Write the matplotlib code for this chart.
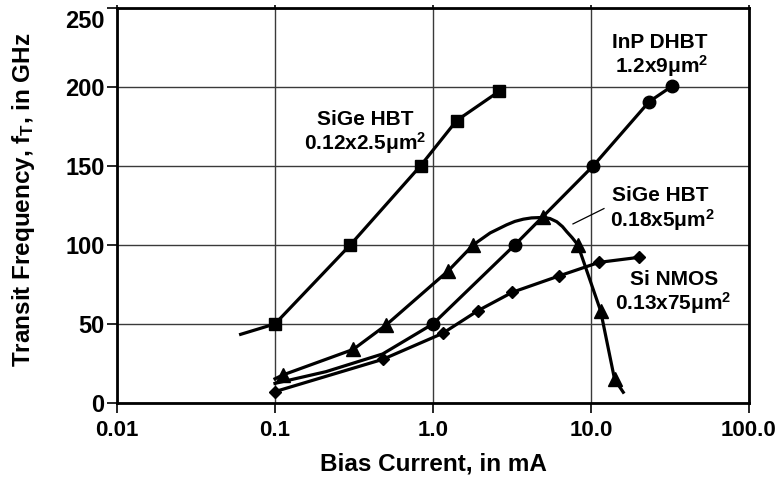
import matplotlib
matplotlib.use("Agg")
import matplotlib.pyplot as plt
import matplotlib.transforms as mtransforms
from matplotlib.ticker import NullLocator

plt.rcParams['font.family'] = ['Liberation Sans', 'DejaVu Sans']
plt.rcParams['font.weight'] = 'bold'
plt.rcParams['mathtext.fontset'] = 'custom'
plt.rcParams['mathtext.rm'] = 'Liberation Sans:bold'
plt.rcParams['mathtext.it'] = 'Liberation Sans:bold'
plt.rcParams['mathtext.bf'] = 'Liberation Sans:bold'

# SiGe HBT 0.12x2.5 um^2 (squares)
sige12_line_x = [0.0606, 0.1, 0.3, 0.835, 1.41, 2.62]
sige12_line_y = [43.4, 50, 100, 150, 178.5, 197]
sige12_x = [0.1, 0.3, 0.835, 1.41, 2.62]
sige12_y = [50, 100, 150, 178.5, 197]

# InP DHBT 1.2x9 um^2 (circles)
inp_line_x = [0.1, 0.21, 0.48, 1.0, 3.3, 10.35, 23.3, 32.6]
inp_line_y = [12.4, 19.8, 31, 50, 100, 150, 190.4, 200.3]
inp_x = [1.0, 3.3, 10.35, 23.3, 32.6]
inp_y = [50, 100, 150, 190.4, 200.3]

# SiGe HBT 0.18x5 um^2 (triangles)
sige18_line_x = [0.1, 0.112, 0.313, 0.505, 1.25, 1.8, 2.3, 2.92, 3.3, 3.73, 4.2,
                 4.97, 5.5, 6.07, 6.6, 7.02, 7.6, 8.25, 11.5, 14.1, 16.0]
sige18_line_y = [15.3, 17.7, 33.9, 49.3, 83.6, 100, 107.5, 112.6, 114.8, 116.2, 117,
                 117.3, 116.6, 114.6, 111.5, 108.3, 104.5, 100, 58.3, 15, 6.8]
sige18_x = [0.112, 0.313, 0.505, 1.25, 1.8, 4.97, 8.25, 11.5, 14.1]
sige18_y = [17.7, 33.9, 49.3, 83.6, 100, 117.3, 100, 58.3, 15]

# Si NMOS 0.13x75 um^2 (diamonds)
nmos_x = [0.1, 0.481, 1.15, 1.92, 3.18, 6.27, 11.25, 20.2]
nmos_y = [7.2, 27.6, 44, 58.3, 70, 80.3, 88.9, 92.1]

# leader line for the SiGe 0.18 label
leader_x = [7.69, 12.08]
leader_y = [113.2, 122.9]

xticks = [0.01, 0.1, 1, 10, 100]
xticklabels = ['0.01', '0.1', '1.0', '10.0', '100.0']
yticks = [0, 50, 100, 150, 200, 250]

W, H = 780, 479
L, R, T, B = 117, 749, 7.5, 403

fig = plt.figure(figsize=(W / 100, H / 100), dpi=100)
ax = fig.add_axes([L / W, 1 - B / H, (R - L) / W, (B - T) / H])

lw = 2.3
ax.plot(sige12_line_x, sige12_line_y, color='black', lw=lw, zorder=3)
ax.plot(sige12_x, sige12_y, 's', color='black', ms=9, zorder=4)
ax.plot(inp_line_x, inp_line_y, color='black', lw=lw, zorder=3)
ax.plot(inp_x, inp_y, 'o', color='black', ms=9, zorder=4)
ax.plot(sige18_line_x, sige18_line_y, color='black', lw=lw, zorder=3)
ax.plot(sige18_x, sige18_y, '^', color='black', ms=10, zorder=4)
ax.plot(nmos_x, nmos_y, color='black', lw=lw, zorder=3)
ax.plot(nmos_x, nmos_y, 'D', color='black', ms=6.5, zorder=4)
ax.plot(leader_x, leader_y, color='black', lw=0.9, zorder=3)

ax.set_xscale('log')
ax.set_xlim(0.01, 100)
ax.set_ylim(0, 250)
ax.set_xticks(xticks)
ax.set_xticklabels(xticklabels)
ax.xaxis.set_minor_locator(NullLocator())
ax.set_yticks(yticks)
ax.tick_params(axis='x', direction='out', length=7, width=1.2, pad=5, labelsize=16)
ax.xaxis.set_tick_params(which='major', top=True)
for t in ax.xaxis.get_major_ticks():
    t.tick2line.set_markersize(2.5)
ax.tick_params(axis='y', direction='out', length=7, width=1.2, pad=2, labelsize=17)
ax.set_axisbelow(True)
ax.grid(True, color='#3a3a3a', lw=1.0)
for s in ax.spines.values():
    s.set_linewidth(2.0)

# top label sits a bit lower than its tick, as in the original
top_lab = ax.get_yticklabels()[-1]
top_lab.set_transform(top_lab.get_transform()
                      + mtransforms.ScaledTranslation(0, -0.12, fig.dpi_scale_trans))


def label(px, py, txt):
    ax.text((px - L) / (R - L), (B - py) / (B - T), txt, transform=ax.transAxes,
            ha='center', va='baseline', fontsize=15, fontweight='bold')


label(365, 125, 'SiGe HBT')
label(365, 150, '0.12x2.5μm$^2$')
label(660, 48, 'InP DHBT')
label(662, 73, '1.2x9μm$^2$')
label(660, 201, 'SiGe HBT')
label(662, 227, '0.18x5μm$^2$')
label(674, 285, 'Si NMOS')
label(673, 310, '0.13x75μm$^2$')

fig.text(433 / W, 1 - 470 / H, 'Bias Current, in mA', ha='center', va='baseline',
         fontsize=17.5, fontweight='bold')
fig.text(24 / W, 1 - 200 / H, 'Transit Frequency, f$_T$, in GHz', ha='center',
         va='center', rotation=90, fontsize=17.5, fontweight='bold')

fig.savefig('out.png', dpi=100)
